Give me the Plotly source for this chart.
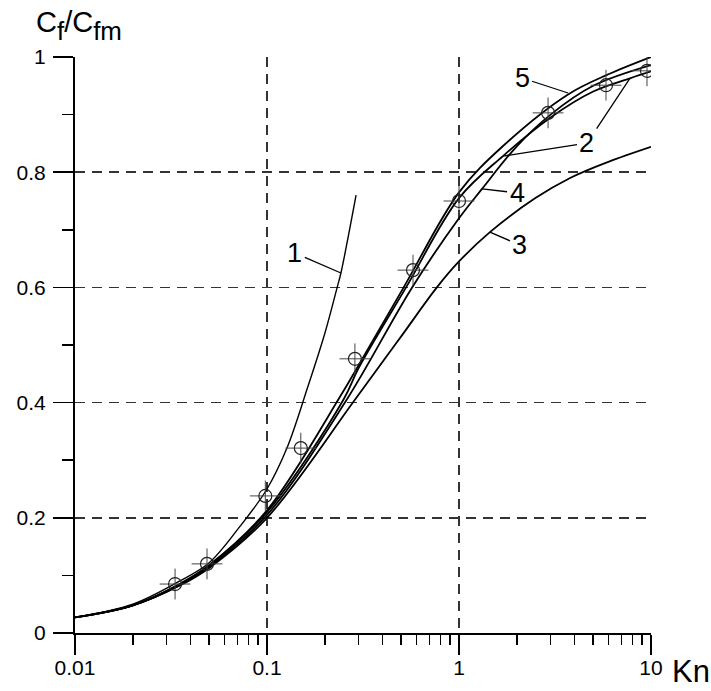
import math
import plotly.graph_objects as go

# ---- data ----
kn1 = [0.01, 0.02, 0.035, 0.05, 0.0723, 0.1, 0.127, 0.163, 0.2, 0.232, 0.2427, 0.291]
cf1 = [0.027, 0.05, 0.09, 0.122, 0.185, 0.25, 0.321, 0.427, 0.52, 0.6, 0.625, 0.76]

kn2 = [0.01, 0.02, 0.035, 0.05, 0.1, 0.25, 0.3, 0.53, 1.0, 1.694, 3.0, 5.0, 7.78, 10.0]
cf2 = [0.027, 0.048, 0.084, 0.117, 0.21, 0.405, 0.46, 0.6, 0.755, 0.828, 0.895, 0.94, 0.963, 0.975]

kn3 = [0.01, 0.02, 0.035, 0.05, 0.1, 0.287, 0.5, 0.767, 1.0, 1.449, 2.5, 3.79, 6.0, 10.0]
cf3 = [0.027, 0.048, 0.082, 0.113, 0.2, 0.405, 0.515, 0.6, 0.645, 0.696, 0.755, 0.79, 0.818, 0.844]

kn4 = [0.01, 0.02, 0.035, 0.05, 0.1, 0.26, 0.57, 1.0, 1.318, 2.0, 3.0, 5.0, 10.0]
cf4 = [0.027, 0.048, 0.083, 0.115, 0.205, 0.405, 0.6, 0.72, 0.771, 0.845, 0.9, 0.95, 0.986]

kn5 = [0.01, 0.02, 0.035, 0.05, 0.1, 0.24, 0.3, 0.515, 1.0, 1.69, 3.7, 6.0, 10.0]
cf5 = [0.027, 0.048, 0.085, 0.118, 0.213, 0.41, 0.465, 0.6, 0.765, 0.845, 0.935, 0.97, 1.0]

kn_exp = [0.0332, 0.0487, 0.098, 0.150, 0.287, 0.576, 1.0, 2.91, 5.83, 9.53]
cf_exp = [0.085, 0.12, 0.238, 0.321, 0.476, 0.63, 0.75, 0.903, 0.951, 0.976]

x_major = [0.01, 0.1, 1, 10]
x_major_text = ["0.01", "0.1", "1", "10"]
x_minor = [m * d for d in (0.01, 0.1, 1) for m in range(2, 10)]
y_major = [0, 0.2, 0.4, 0.6, 0.8, 1.0]
y_major_text = ["0", "0.2", "0.4", "0.6", "0.8", "1"]
y_minor = [0.1, 0.3, 0.5, 0.7, 0.9]

# curve labels: text, pointer tip (data), text offset (px)
labels = [
    ("1", 0.2427, 0.625, -46, -20),
    ("2", 1.694, 0.828, 84, -13),
    ("2", 7.78, 0.9635, -43, 65),
    ("3", 1.449, 0.696, 30, 13),
    ("4", 1.318, 0.771, 35, 4),
    ("5", 3.70, 0.9375, -46, -15),
]

FONT = "Arial, Liberation Sans, sans-serif"
INK = "#222"

fig = go.Figure()
for kx, cy, w in [(kn3, cf3, 1.8), (kn4, cf4, 1.8), (kn2, cf2, 1.8), (kn5, cf5, 1.8), (kn1, cf1, 1.4)]:
    fig.add_trace(go.Scatter(x=kx, y=cy, mode="lines",
                             line=dict(color="black", width=w, shape="spline", smoothing=1.0),
                             showlegend=False, hoverinfo="skip"))

fig.add_trace(go.Scatter(x=kn_exp, y=cf_exp, mode="markers",
                         marker=dict(symbol="cross-thin-open", size=22, color="#444",
                                     line=dict(color="#444", width=1)),
                         showlegend=False, hoverinfo="skip"))
fig.add_trace(go.Scatter(x=kn_exp, y=cf_exp, mode="markers",
                         marker=dict(symbol="circle-open", size=13, color=INK,
                                     line=dict(color=INK, width=1.2)),
                         showlegend=False, hoverinfo="skip"))

annotations = []
for i, (t, x, y, ax, ay) in enumerate(labels):
    dup = (t == "2" and i == 2)
    annotations.append(dict(
        x=math.log10(x), y=y, xref="x", yref="y", axref="pixel", ayref="pixel",
        ax=ax, ay=ay, text=t, showarrow=True, arrowhead=0, arrowwidth=1.3,
        arrowcolor="black", standoff=0, startstandoff=1,
        font=dict(family=FONT, size=27, color="rgba(0,0,0,0)" if dup else "black"),
    ))

big = "<span style='font-size:29px'>{}</span>"
title_text = big.format("C") + "<sub>f</sub>" + big.format("/C") + "<sub>fm</sub>"
annotations.append(dict(text=title_text, xref="paper", yref="paper",
                        x=-0.072, y=1.055, xanchor="left", yanchor="middle", showarrow=False,
                        font=dict(family=FONT, size=37, color="black")))
annotations.append(dict(text="Kn", xref="paper", yref="paper",
                        x=1.033, y=-0.066, xanchor="left", yanchor="middle", showarrow=False,
                        font=dict(family=FONT, size=31, color="black")))

grid_dash = "10px,7px"
fig.update_layout(
    width=711, height=691,
    margin=dict(l=75, r=60, t=57, b=58, autoexpand=False),
    paper_bgcolor="white", plot_bgcolor="white",
    font=dict(family=FONT, size=21, color="black"),
    annotations=annotations,
    xaxis=dict(type="log", range=[-2, 1], tickmode="array", tickvals=x_major, ticktext=x_major_text,
               ticks="outside", ticklen=20, tickwidth=1.5, tickcolor="black",
               showline=True, linecolor="black", linewidth=2,
               showgrid=True, gridcolor="#333", gridwidth=1.5, griddash=grid_dash,
               zeroline=False, ticklabelstandoff=-5, automargin=False,
               minor=dict(tickmode="array", tickvals=x_minor, ticks="outside", ticklen=10,
                          tickwidth=1.5, tickcolor="black", showgrid=False)),
    yaxis=dict(range=[0, 1], tickmode="array", tickvals=y_major, ticktext=y_major_text,
               ticks="outside", ticklen=20, tickwidth=1.5, tickcolor="black",
               showline=True, linecolor="black", linewidth=2,
               showgrid=True, gridcolor="#333", gridwidth=1.5, griddash=grid_dash,
               zeroline=False, ticklabelstandoff=3, automargin=False,
               minor=dict(tickmode="array", tickvals=y_minor, ticks="outside", ticklen=11,
                          tickwidth=1.5, tickcolor="black", showgrid=False)),
)

fig.write_html("out.html", config={"displayModeBar": False, "staticPlot": True},
               post_script="document.body.style.margin='0';document.body.style.overflow='hidden';")
